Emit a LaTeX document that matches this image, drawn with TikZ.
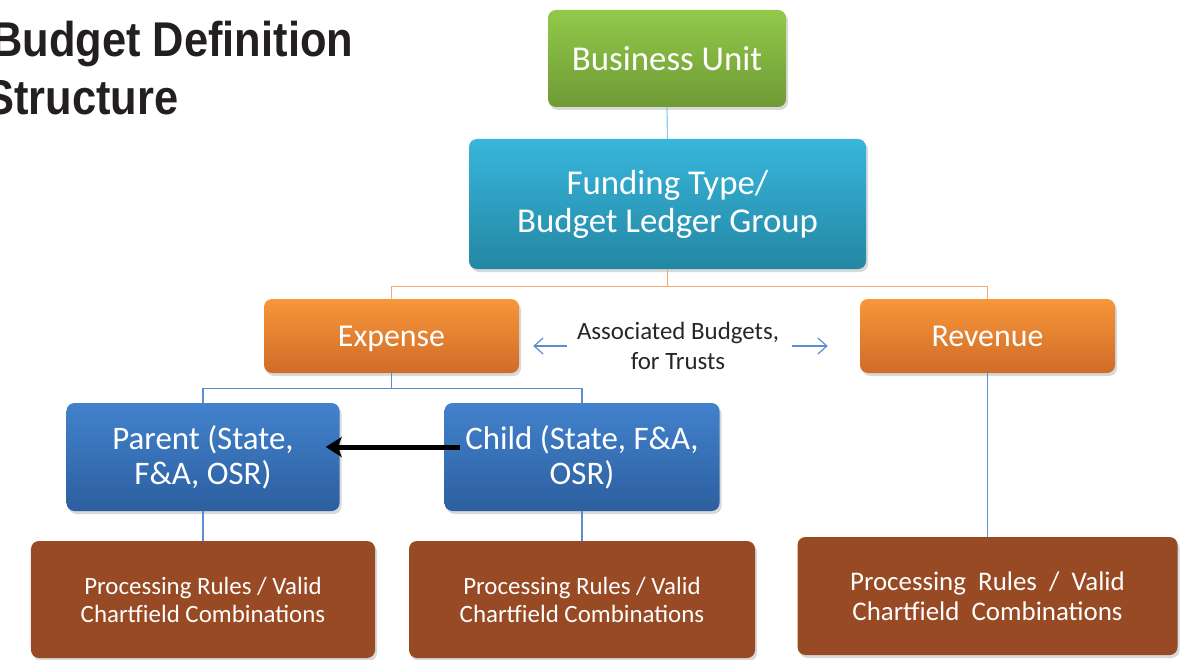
\documentclass[tikz,border=0pt]{standalone}
\usepackage{fontspec}
\setmainfont{Carlito}
\newfontfamily\titlefont[FakeStretch=0.89]{Liberation Sans}
\usetikzlibrary{positioning}
\usetikzlibrary{shadows}
\usetikzlibrary{arrows.meta}
\definecolor{titleblack}{RGB}{35,31,32}
\definecolor{greentop}{RGB}{146,201,74}
\definecolor{greenbot}{RGB}{111,154,53}
\definecolor{cyantop}{RGB}{56,182,220}
\definecolor{cyanbot}{RGB}{35,135,163}
\definecolor{orangetop}{RGB}{247,150,58}
\definecolor{orangebot}{RGB}{208,108,40}
\definecolor{bluetop}{RGB}{66,130,204}
\definecolor{bluebot}{RGB}{44,95,159}
\definecolor{rulebrown}{RGB}{151,74,36}
\definecolor{cyanline}{RGB}{140,207,227}
\definecolor{orangeline}{RGB}{246,168,113}
\definecolor{blueline}{RGB}{90,142,210}

\begin{document}
\begin{tikzpicture}[x=1bp,y=-1bp,
    box/.style={rounded corners=8bp, inner sep=0pt, align=center, text=white,
      drop shadow={opacity=0.3, shadow xshift=2bp, shadow yshift=-3bp}},
    title/.style={inner sep=0pt, anchor=base west, text=titleblack,
      font=\titlefont\bfseries\fontsize{49}{58}\selectfont},
    conn/.style={line width=1.2bp}]
    \useasboundingbox (0,0) rectangle (1180,660);

    \node[title] (ttl) at (-9,57) {Budget Definition};
    \node[title] (ttlb) at (-15,115) {Structure};

    \node[box, minimum width=238bp, minimum height=97bp, top color=greentop, bottom color=greenbot,
      font=\fontsize{35}{38}\selectfont] (bu) at (667,58.5) {Business Unit};
    \node[box, minimum width=397bp, minimum height=130bp, top color=cyantop, bottom color=cyanbot,
      font=\fontsize{35}{38}\selectfont] (fund) at (667.5,204) {Funding Type/\\Budget Ledger Group};
    \node[box, minimum width=255bp, minimum height=74bp, top color=orangetop, bottom color=orangebot,
      text depth=0pt, font=\fontsize{32}{36}\selectfont] (exp) at (391.5,336) {Expense};
    \node[box, minimum width=255bp, minimum height=74bp, top color=orangetop, bottom color=orangebot,
      text depth=0pt, font=\fontsize{32}{36}\selectfont] (rev) at (987.5,336) {Revenue};
    \node[box, minimum width=273bp, minimum height=108bp, top color=bluetop, bottom color=bluebot,
      font=\fontsize{33}{35}\selectfont] (par) at (203,457) {Parent (State,\\F\&A, OSR)};
    \node[box, minimum width=275bp, minimum height=108bp, top color=bluetop, bottom color=bluebot,
      font=\fontsize{33}{35}\selectfont] (chi) at (582,457) {Child (State, F\&A,\\OSR)};
    \node[box, minimum width=344bp, minimum height=117bp, fill=rulebrown,
      font=\fontsize{25}{28}\selectfont] (rulesa) at (203,599.5) {Processing Rules / Valid\\Chartfield Combinations};
    \node[box, minimum width=346bp, minimum height=117bp, fill=rulebrown,
      font=\fontsize{25}{28}\selectfont] (rulesb) at (582,599.5) {Processing Rules / Valid\\Chartfield Combinations};
    \node[box, minimum width=380bp, minimum height=118bp, fill=rulebrown,
      font=\fontsize{27}{30}\selectfont] (rulesc) at (987.5,596) {Processing\ \ Rules\ \ /\ \ Valid\\Chartfield\ \ Combinations};

    \node[inner sep=0pt, align=center, text=black!85, font=\fontsize{25}{30}\selectfont]
      (assoc) at (678,346) {Associated Budgets,\\for Trusts};

    \draw[conn, cyanline] (bu.south) -- (fund.north);
    \draw[conn, orangeline] (fund.south) -- ++(0,17) coordinate (fj) -| (exp.north);
    \draw[conn, orangeline] (fj) -| (rev.north);
    \draw[conn, blueline] (exp.south) -- ++(0,15) coordinate (ej) -| (par.north);
    \draw[conn, blueline] (ej) -| (chi.north);
    \draw[conn, blueline] (par.south) -- (rulesa.north);
    \draw[conn, blueline] (chi.south) -- (rulesb.north);
    \draw[conn, blueline] (rev.south) -- (rulesc.north);

    \draw[conn, blueline, -{Straight Barb[length=9bp, width=16bp]}, shorten <=10bp, shorten >=14bp]
      (assoc.west) -- (assoc.west -| exp.east);
    \draw[conn, blueline, -{Straight Barb[length=9bp, width=16bp]}, shorten <=13bp, shorten >=32bp]
      (assoc.east) -- (assoc.east -| rev.west);

    \draw[line width=5bp, black, -{Stealth[length=16bp, width=20bp, inset=4bp]}]
      ([shift={(16,-10)}]chi.west) -- ([shift={(-14,-10)}]par.east);
\end{tikzpicture}
\end{document}
